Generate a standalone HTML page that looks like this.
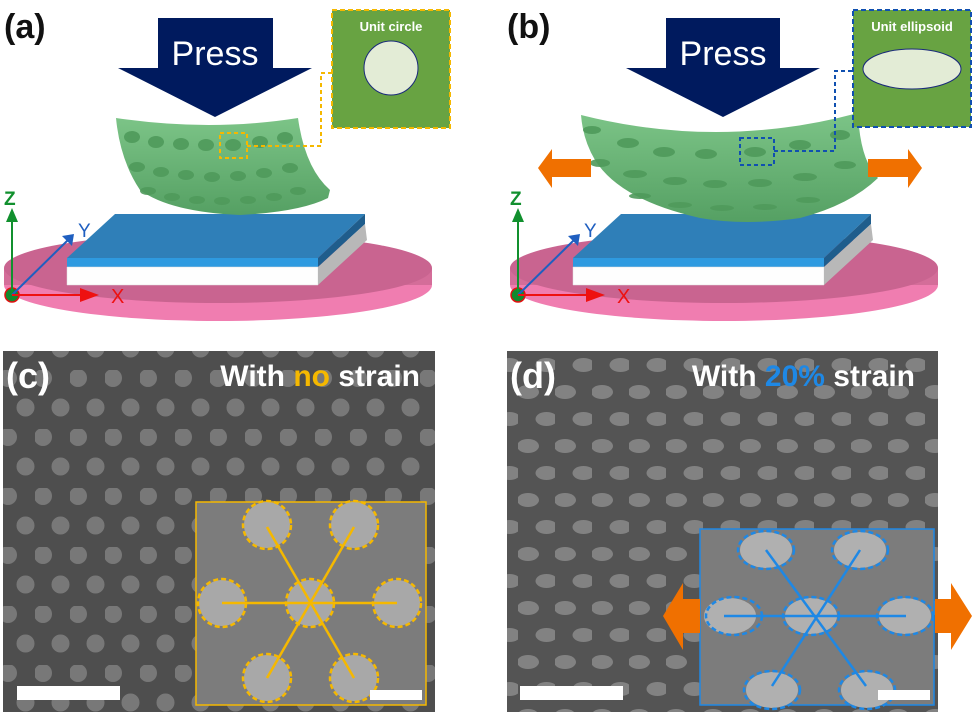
<!DOCTYPE html>
<html><head><meta charset="utf-8"><style>
html,body{margin:0;padding:0;background:#fff}
svg{display:block}
text{font-family:"Liberation Sans",sans-serif}
</style></head><body>
<svg width="975" height="715" viewBox="0 0 975 715" xmlns="http://www.w3.org/2000/svg">
<defs>
<pattern id="dotsC" x="0" y="16" width="35" height="59" patternUnits="userSpaceOnUse">
<circle cx="8" cy="8" r="9" fill="#787878"/>
<circle cx="25.5" cy="37.5" r="9" fill="#787878"/>
</pattern>
<pattern id="dotsD" x="0" y="4" width="37" height="54" patternUnits="userSpaceOnUse">
<ellipse cx="10" cy="10" rx="11" ry="7" fill="#828282"/>
<ellipse cx="28.5" cy="37" rx="11" ry="7" fill="#828282"/>
</pattern>
<linearGradient id="green" x1="0" y1="0" x2="0" y2="1">
<stop offset="0" stop-color="#7cc487"/><stop offset="1" stop-color="#55a063"/>
</linearGradient>
<g id="base">
<ellipse cx="218" cy="285" rx="214" ry="36" fill="#f07db0"/>
<rect x="4" y="268" width="428" height="17" fill="#d46d99"/>
<ellipse cx="218" cy="268" rx="214" ry="35" fill="#c96490"/>
<polygon points="115,214 365,214 318,258 67,258" fill="#2f7fb8"/>
<polygon points="67,258 318,258 318,267 67,267" fill="#2e9ae0"/>
<polygon points="67,267 318,267 318,285 67,285" fill="#fefefe" stroke="#ddd" stroke-width="0.5"/>
<polygon points="318,258 365,214 365,224 318,267" fill="#1f5d8c"/>
<polygon points="318,267 365,224 367,240 318,285" fill="#b8b8b8"/>
<circle cx="12" cy="295" r="7" fill="#128a2e" stroke="#e01010" stroke-width="1.5"/>
<line x1="12" y1="295" x2="12" y2="222" stroke="#11902e" stroke-width="2"/>
<polygon points="6,222 18,222 12,208" fill="#11902e"/>
<text x="4" y="205" font-size="19" font-weight="bold" fill="#11902e">Z</text>
<line x1="12" y1="295" x2="68" y2="240" stroke="#1f5fc0" stroke-width="2"/>
<polygon points="62,236 74,234 72,246" fill="#1f5fc0"/>
<text x="78" y="237" font-size="19" fill="#1f5fc0">Y</text>
<line x1="12" y1="295" x2="82" y2="295" stroke="#ee1111" stroke-width="2"/>
<polygon points="80,288 80,302 99,295" fill="#ee1111"/>
<text x="111" y="303" font-size="20" fill="#ee1111">X</text>
</g>
</defs>

<!-- (a) -->
<text x="4" y="38" font-size="34" font-weight="bold" fill="#111">(a)</text>
<use href="#base"/>
<path d="M116,118 Q210,132 298,118 Q305,168 330,190 L328,198 Q300,212 240,215 Q170,212 140,190 Q120,160 116,118 Z" fill="url(#green)"/>
<g fill="#4f9a5b" opacity="0.9">
<ellipse cx="132" cy="137" rx="8" ry="6"/><ellipse cx="156" cy="142" rx="8" ry="6"/><ellipse cx="181" cy="144" rx="8" ry="6"/><ellipse cx="206" cy="145" rx="8" ry="6"/><ellipse cx="233" cy="145" rx="8" ry="6"/><ellipse cx="260" cy="142" rx="8" ry="6"/><ellipse cx="285" cy="138" rx="8" ry="6"/>
<ellipse cx="137" cy="167" rx="8" ry="5"/><ellipse cx="161" cy="172" rx="8" ry="5"/><ellipse cx="186" cy="175" rx="8" ry="5"/><ellipse cx="212" cy="177" rx="8" ry="5"/><ellipse cx="238" cy="176" rx="8" ry="5"/><ellipse cx="264" cy="173" rx="8" ry="5"/><ellipse cx="290" cy="168" rx="8" ry="5"/>
<ellipse cx="148" cy="191" rx="8" ry="4"/><ellipse cx="172" cy="197" rx="8" ry="4"/><ellipse cx="197" cy="200" rx="8" ry="4"/><ellipse cx="222" cy="201" rx="8" ry="4"/><ellipse cx="248" cy="200" rx="8" ry="4"/><ellipse cx="274" cy="197" rx="8" ry="4"/><ellipse cx="298" cy="191" rx="8" ry="4"/>
</g>
<rect x="220" y="133" width="27" height="25" fill="none" stroke="#f5b800" stroke-width="2" stroke-dasharray="4,3"/>
<polyline points="247,146 321,146 321,73 332,73" fill="none" stroke="#f5b800" stroke-width="2" stroke-dasharray="4,3"/>
<polygon points="158,18 273,18 273,68 312,68 215,117 118,68 158,68" fill="#001a5e"/>
<text x="215" y="65" font-size="34" fill="#fff" text-anchor="middle">Press</text>
<rect x="332" y="10" width="118" height="118" fill="#68a342" stroke="#f5b800" stroke-width="2" stroke-dasharray="5,3"/>
<text x="391" y="31" font-size="13" font-weight="bold" fill="#fff" text-anchor="middle">Unit circle</text>
<circle cx="391" cy="68" r="27" fill="#e3ecd6" stroke="#1a2a7a" stroke-width="1"/>

<!-- (b) -->
<text x="507" y="38" font-size="34" font-weight="bold" fill="#111">(b)</text>
<use href="#base" transform="translate(506,0)"/>
<path d="M581,115 Q720,150 858,113 Q860,160 878,178 Q850,205 800,218 Q745,226 700,218 Q620,200 595,160 Q583,140 581,115 Z" fill="url(#green)"/>
<g fill="#4f9a5b" opacity="0.9">
<ellipse cx="592" cy="130" rx="9" ry="4"/><ellipse cx="628" cy="143" rx="11" ry="5"/><ellipse cx="664" cy="152" rx="11" ry="5"/><ellipse cx="706" cy="154" rx="11" ry="5"/><ellipse cx="755" cy="152" rx="11" ry="5"/><ellipse cx="800" cy="145" rx="11" ry="5"/><ellipse cx="840" cy="135" rx="10" ry="5"/>
<ellipse cx="600" cy="163" rx="10" ry="4"/><ellipse cx="635" cy="174" rx="12" ry="4"/><ellipse cx="675" cy="181" rx="12" ry="4"/><ellipse cx="715" cy="184" rx="12" ry="4"/><ellipse cx="760" cy="183" rx="12" ry="4"/><ellipse cx="805" cy="177" rx="12" ry="4"/><ellipse cx="845" cy="165" rx="11" ry="4"/>
<ellipse cx="640" cy="196" rx="11" ry="3"/><ellipse cx="680" cy="205" rx="12" ry="3"/><ellipse cx="722" cy="208" rx="12" ry="3"/><ellipse cx="765" cy="207" rx="12" ry="3"/><ellipse cx="808" cy="200" rx="12" ry="3"/>
</g>
<rect x="740" y="138" width="34" height="27" fill="none" stroke="#1050b0" stroke-width="2" stroke-dasharray="4,3"/>
<polyline points="774,151 835,151 835,71 853,71" fill="none" stroke="#1050b0" stroke-width="2" stroke-dasharray="4,3"/>
<polygon points="666,18 780,18 780,68 820,68 723,117 626,68 666,68" fill="#001a5e"/>
<text x="723" y="65" font-size="34" fill="#fff" text-anchor="middle">Press</text>
<rect x="853" y="10" width="118" height="117" fill="#68a342" stroke="#1050b0" stroke-width="2" stroke-dasharray="5,3"/>
<text x="912" y="31" font-size="13" font-weight="bold" fill="#fff" text-anchor="middle">Unit ellipsoid</text>
<ellipse cx="912" cy="69" rx="49" ry="20" fill="#e3ecd6" stroke="#1a2a7a" stroke-width="1"/>
<polygon points="591,159 591,177 552,177 552,188 538,168 552,149 552,159" fill="#f07000"/>
<polygon points="868,159 868,177 908,177 908,188 922,168 908,149 908,159" fill="#f07000"/>

<!-- (c) -->
<rect x="3" y="351" width="432" height="361" fill="#4e4e4e"/>
<rect x="3" y="351" width="432" height="361" fill="url(#dotsC)"/>
<rect x="196" y="502" width="230" height="203" fill="#7c7c7c" stroke="#f5b800" stroke-width="1.5"/>
<g fill="#a8a8a8">
<circle cx="267" cy="525" r="23"/><circle cx="354" cy="525" r="23"/><circle cx="222" cy="603" r="23"/><circle cx="310" cy="603" r="23"/><circle cx="397" cy="603" r="23"/><circle cx="267" cy="678" r="23"/><circle cx="354" cy="678" r="23"/>
</g>
<g fill="none" stroke="#f5b800" stroke-width="2.5" stroke-dasharray="5,3">
<circle cx="267" cy="525" r="24"/><circle cx="354" cy="525" r="24"/><circle cx="222" cy="603" r="24"/><circle cx="310" cy="603" r="24"/><circle cx="397" cy="603" r="24"/><circle cx="267" cy="678" r="24"/><circle cx="354" cy="678" r="24"/>
</g>
<g stroke="#f5b800" stroke-width="2.5">
<line x1="222" y1="603" x2="397" y2="603"/><line x1="267" y1="527" x2="354" y2="678"/><line x1="354" y1="527" x2="267" y2="678"/>
</g>
<rect x="370" y="690" width="52" height="10" fill="#fff"/>
<rect x="17" y="686" width="103" height="14" fill="#fff"/>
<text x="6" y="388" font-size="36" font-weight="bold" fill="#fff">(c)</text>
<text x="420" y="386" font-size="30" font-weight="bold" fill="#fff" text-anchor="end">With <tspan fill="#f5b800">no</tspan> strain</text>

<!-- (d) -->
<rect x="507" y="351" width="431" height="361" fill="#545454"/>
<rect x="507" y="351" width="431" height="361" fill="url(#dotsD)"/>
<rect x="700" y="529" width="234" height="176" fill="#7c7c7c" stroke="#1e88e5" stroke-width="1.5"/>
<g fill="#b0b0b0">
<ellipse cx="766" cy="550" rx="26" ry="18"/><ellipse cx="860" cy="550" rx="26" ry="18"/><ellipse cx="730" cy="616" rx="26" ry="18"/><ellipse cx="811" cy="616" rx="26" ry="18"/><ellipse cx="905" cy="616" rx="26" ry="18"/><ellipse cx="772" cy="690" rx="26" ry="18"/><ellipse cx="867" cy="690" rx="26" ry="18"/>
</g>
<g fill="none" stroke="#1e88e5" stroke-width="2.5" stroke-dasharray="5,3">
<ellipse cx="766" cy="550" rx="28" ry="19"/><ellipse cx="860" cy="550" rx="28" ry="19"/><ellipse cx="734" cy="616" rx="28" ry="19"/><ellipse cx="811" cy="616" rx="28" ry="19"/><ellipse cx="905" cy="616" rx="28" ry="19"/><ellipse cx="772" cy="690" rx="28" ry="19"/><ellipse cx="867" cy="690" rx="28" ry="19"/>
</g>
<g stroke="#1e88e5" stroke-width="2.5">
<line x1="724" y1="616" x2="906" y2="616"/><line x1="766" y1="550" x2="866" y2="686"/><line x1="860" y1="550" x2="772" y2="686"/>
</g>
<rect x="878" y="690" width="52" height="10" fill="#fff"/>
<rect x="520" y="686" width="103" height="14" fill="#fff"/>
<polygon points="700,599 700,633 683,633 683,650 663,616 683,583 683,599" fill="#f07000"/>
<polygon points="935,599 935,633 951,633 951,650 972,616 951,583 951,599" fill="#f07000"/>
<text x="510" y="388" font-size="36" font-weight="bold" fill="#fff">(d)</text>
<text x="915" y="386" font-size="30" font-weight="bold" fill="#fff" text-anchor="end">With <tspan fill="#1e88e5">20%</tspan> strain</text>
</svg>
</body></html>
